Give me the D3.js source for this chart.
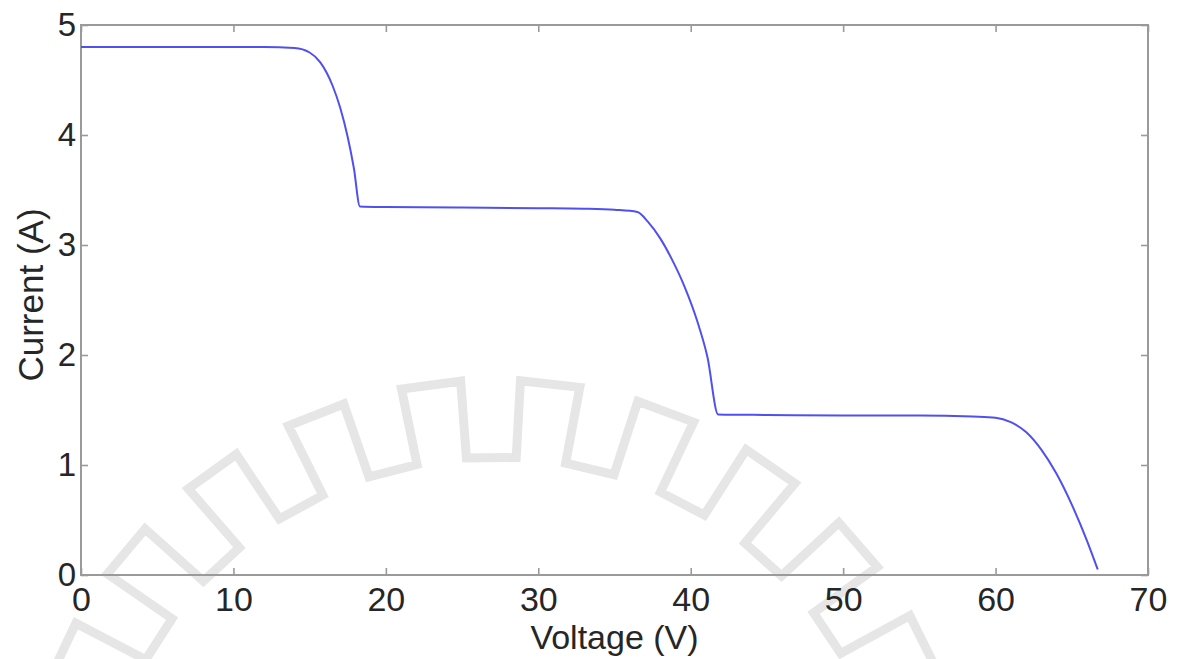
<!DOCTYPE html>
<html>
<head>
<meta charset="utf-8">
<script src="https://cdn.jsdelivr.net/npm/d3@7"></script>
<style>
  html, body { margin: 0; padding: 0; background: #ffffff; }
  svg { display: block; font-family: "Liberation Sans", Arial, sans-serif; }
</style>
</head>
<body>
<svg id="chart" width="1184" height="659"></svg>
<script>
// I-V characteristic under partial shading (three steps)
const voltage = [0, 5, 10, 12, 14, 15, 15.7, 16.5, 17.0, 17.5, 17.9, 18.3,
                 20, 25, 30, 33, 35, 36.5, 37.2, 38.0, 38.8, 39.6, 40.4, 41.1, 41.8,
                 45, 50, 55, 58.5, 60, 61, 62, 63, 64, 65, 66, 66.7];
const current = [4.80, 4.80, 4.80, 4.80, 4.79, 4.75, 4.66, 4.45, 4.25, 3.98, 3.70, 3.35,
                 3.345, 3.34, 3.335, 3.33, 3.32, 3.30, 3.21, 3.06, 2.86, 2.62, 2.32, 1.98, 1.46,
                 1.455, 1.45, 1.45, 1.44, 1.43, 1.39, 1.30, 1.14, 0.92, 0.64, 0.31, 0.05];

const xTicks = [0, 10, 20, 30, 40, 50, 60, 70];
const yTicks = [0, 1, 2, 3, 4, 5];
const xLabel = "Voltage (V)";
const yLabel = "Current (A)";

const svg = d3.select("#chart");
const plot = { left: 81, right: 1148, top: 25, bottom: 575 };

// faint gear emblem in the background
(function drawEmblem() {
  const cx = 495, cy = 842, ro = 462, ri = 385, sx = 1.03;
  const n = 25, period = 2 * Math.PI / n, phase = -0.135;
  const pts = [];
  for (let k = 0; k < n; k++) {
    const c = phase + k * period;
    const a0 = c - period / 4, a1 = c + period / 4, a2 = c + period * 3 / 4;
    pts.push([a0, ri], [a0, ro], [a1, ro], [a1, ri], [a2, ri]);
  }
  const toXY = ([a, r]) => [cx + sx * r * Math.sin(a), cy - r * Math.cos(a)];
  const g = svg.append("g").attr("class", "emblem");
  g.append("path")
    .attr("d", d3.line()(pts.map(toXY)) + "Z")
    .attr("fill", "none")
    .attr("stroke", "#e6e6e6")
    .attr("stroke-width", 9)
    .attr("stroke-linejoin", "miter");
  g.append("path")
    .attr("d", d3.arc()({ innerRadius: 138, outerRadius: 146, startAngle: -0.45, endAngle: 0.45 }))
    .attr("transform", `translate(${cx},${cy})`)
    .attr("fill", "#e8e8e8");
})();

const x = d3.scaleLinear().domain([0, 70]).range([plot.left, plot.right]);
const y = d3.scaleLinear().domain([0, 5]).range([plot.bottom, plot.top]);

const axisColor = "#9a9a9a";
const tickLen = 7;

function styleAxis(g) {
  g.select(".domain").remove();
  g.selectAll(".tick line").attr("stroke", axisColor).attr("stroke-width", 1.6);
  g.selectAll(".tick text").attr("fill", "#262626");
}

// bottom and left axes with labels, ticks pointing inward
svg.append("g")
  .attr("transform", `translate(0,${plot.bottom})`)
  .call(d3.axisBottom(x).tickValues(xTicks).tickSize(-tickLen).tickPadding(12).tickFormat(d3.format("d")))
  .call(styleAxis)
  .call(g => g.selectAll(".tick text").attr("font-size", 34).attr("font-family", "Liberation Sans, Arial, sans-serif"));

svg.append("g")
  .attr("transform", `translate(${plot.left},0)`)
  .call(d3.axisLeft(y).tickValues(yTicks).tickSize(-tickLen).tickPadding(5).tickFormat(d3.format("d")))
  .call(styleAxis)
  .call(g => g.selectAll(".tick text").attr("font-size", 33).attr("font-family", "Liberation Sans, Arial, sans-serif"));

// mirrored top and right ticks
svg.append("g")
  .attr("transform", `translate(0,${plot.top})`)
  .call(d3.axisTop(x).tickValues(xTicks).tickSize(-tickLen).tickFormat(""))
  .call(styleAxis);

svg.append("g")
  .attr("transform", `translate(${plot.right},0)`)
  .call(d3.axisRight(y).tickValues(yTicks).tickSize(-tickLen).tickFormat(""))
  .call(styleAxis);

// axes box
svg.append("rect")
  .attr("x", plot.left).attr("y", plot.top)
  .attr("width", plot.right - plot.left).attr("height", plot.bottom - plot.top)
  .attr("fill", "none").attr("stroke", axisColor).attr("stroke-width", 2);

// I-V curve
const data = voltage.map((v, i) => ({ v, i: current[i] }));
svg.append("path")
  .datum(data)
  .attr("fill", "none")
  .attr("stroke", "#5050f0")
  .attr("stroke-width", 2)
  .attr("d", d3.line().x(d => x(d.v)).y(d => y(d.i)).curve(d3.curveMonotoneX));

// axis titles
svg.append("text")
  .attr("x", (plot.left + plot.right) / 2)
  .attr("y", 649)
  .attr("text-anchor", "middle")
  .attr("font-size", 34)
  .attr("fill", "#262626")
  .text(xLabel);

svg.append("text")
  .attr("transform", `translate(43,${(plot.top + plot.bottom) / 2 - 5}) rotate(-90)`)
  .attr("text-anchor", "middle")
  .attr("font-size", 35)
  .attr("fill", "#262626")
  .text(yLabel);
</script>
</body>
</html>
